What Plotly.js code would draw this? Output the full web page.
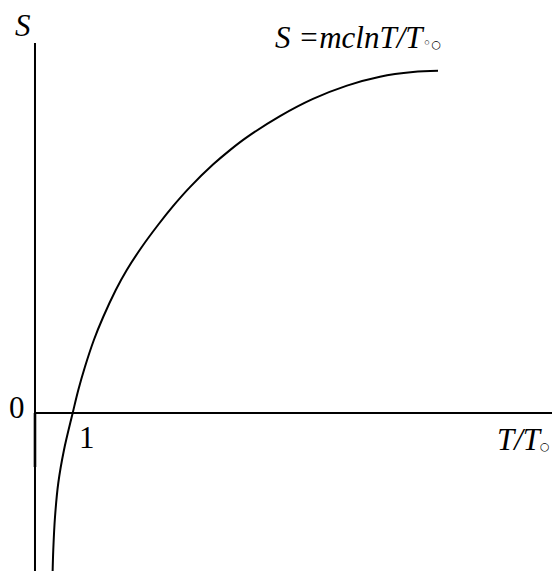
<!DOCTYPE html>
<html>
<head>
<meta charset="utf-8">
<script src="https://cdn.plot.ly/plotly-3.0.1.min.js"></script>
<style>
  html, body { margin: 0; padding: 0; background: #fff; }
  #plot { width: 552px; height: 571px; }
</style>
</head>
<body>
<div id="plot"></div>
<script>
'use strict'

// curve: T/T0 and S (arbitrary units)

const ratio_T = [0.466, 0.485, 0.531, 0.618, 0.769, 1.000, 1.149, 1.324, 1.562, 1.809, 2.143, 2.435, 2.833, 3.263, 3.679, 4.111, 4.721, 5.172, 5.615, 6.499, 7.374, 8.276, 9.151, 10.027, 10.690]
const entropy_S = [-1.62, -1.37, -1.04, -0.70, -0.37, 0, 0.23, 0.46, 0.73, 0.96, 1.23, 1.43, 1.66, 1.88, 2.076, 2.259, 2.484, 2.629, 2.756, 2.969, 3.141, 3.274, 3.363, 3.409, 3.4215]

// labels

const label_y = 'S'
const label_x = 'T/T'
const label_curve = 'S =mclnT/T'
const tick_zero = '0'
const tick_one = '1'

///////////////////////////////////////////////////////

const W = 552, H = 571
const x_range = [-0.928, 13.714]
const y_range = [-1.58, 4.13]

const font = { family: 'Liberation Serif, Times New Roman, serif', size: 31, color: '#000' }
const small_ring = '<span style="font-family:DejaVu Sans;font-size:11px">○</span>'
const tiny_ring = '<span style="font-family:DejaVu Sans;font-size:15px">◦</span>'

// helper: place labels by pixel

const px = x => x / W
const py = y => 1 - y / H

const note = (text, x, y, anchor) => ({
  text: text,
  xref: 'paper',
  yref: 'paper',
  x: px(x),
  y: py(y),
  xanchor: anchor || 'center',
  yanchor: 'middle',
  showarrow: false,
  font: font
})

const trace_curve = {
  x: ratio_T,
  y: entropy_S,
  type: 'scatter',
  mode: 'lines',
  line: { color: '#000', width: 2, shape: 'spline', smoothing: 1 },
  hoverinfo: 'none'
}

const hidden_axis = {
  showgrid: false,
  zeroline: false,
  showline: false,
  showticklabels: false,
  ticks: '',
  fixedrange: true
}

const layout = {
  width: W,
  height: H,
  margin: { l: 0, r: 0, t: 0, b: 0, pad: 0 },
  paper_bgcolor: '#fff',
  plot_bgcolor: '#fff',
  showlegend: false,
  xaxis: Object.assign({ range: x_range }, hidden_axis),
  yaxis: Object.assign({ range: y_range }, hidden_axis),
  shapes: [
    // S axis
    { type: 'line', xref: 'x', yref: 'y', x0: 0, x1: 0, y0: y_range[0], y1: 3.70, line: { color: '#000', width: 2 } },
    { type: 'line', xref: 'x', yref: 'y', x0: 0, x1: 0, y0: 0, y1: -0.54, line: { color: '#000', width: 2.6 } },
    // T/T0 axis
    { type: 'line', xref: 'x', yref: 'y', x0: 0, x1: x_range[1], y0: 0, y1: 0, line: { color: '#000', width: 2 } }
  ],
  annotations: [
    note('<i>' + label_y + '</i>', 23, 25),
    note('<i>' + label_curve + '</i>' + tiny_ring + small_ring, 273, 37, 'left'),
    note(tick_zero, 17, 408),
    note(tick_one, 87, 437),
    note('<i>' + label_x + '</i>' + small_ring, 495, 439, 'left')
  ]
}

Plotly.newPlot('plot', [trace_curve], layout, { staticPlot: true, displayModeBar: false })
</script>
</body>
</html>
